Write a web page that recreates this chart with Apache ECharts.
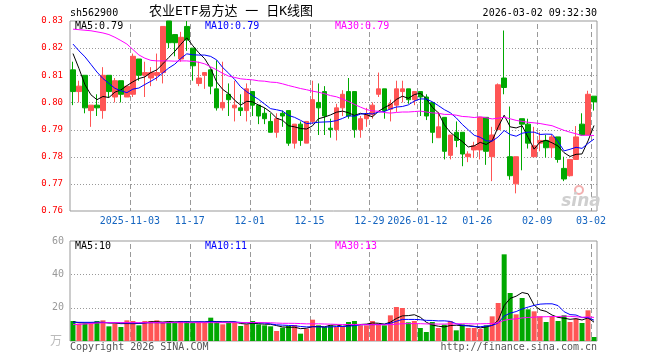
<!DOCTYPE html>
<html><head><meta charset="utf-8">
<script src="https://cdn.jsdelivr.net/npm/echarts@6/dist/echarts.min.js"></script>
<style>html,body{margin:0;padding:0;background:#fff}#c{width:660px;height:360px}</style>
</head><body><div id="c"></div>
<script>
const dates = [
'2025-10-20','2025-10-21','2025-10-22','2025-10-23','2025-10-24','2025-10-27','2025-10-28','2025-10-29','2025-10-30','2025-10-31',
'2025-11-03','2025-11-04','2025-11-05','2025-11-06','2025-11-07','2025-11-10','2025-11-11','2025-11-12','2025-11-13','2025-11-14',
'2025-11-17','2025-11-18','2025-11-19','2025-11-20','2025-11-21','2025-11-24','2025-11-25','2025-11-26','2025-11-27','2025-11-28',
'2025-12-01','2025-12-02','2025-12-03','2025-12-04','2025-12-05','2025-12-08','2025-12-09','2025-12-10','2025-12-11','2025-12-12',
'2025-12-15','2025-12-16','2025-12-17','2025-12-18','2025-12-19','2025-12-22','2025-12-23','2025-12-24','2025-12-25','2025-12-26',
'2025-12-29','2025-12-30','2025-12-31','2026-01-05','2026-01-06','2026-01-07','2026-01-08','2026-01-09','2026-01-12','2026-01-13',
'2026-01-14','2026-01-15','2026-01-16','2026-01-19','2026-01-20','2026-01-21','2026-01-22','2026-01-23','2026-01-26','2026-01-27',
'2026-01-28','2026-01-29','2026-01-30','2026-02-02','2026-02-03','2026-02-04','2026-02-05','2026-02-06','2026-02-09','2026-02-10',
'2026-02-11','2026-02-12','2026-02-13','2026-02-24','2026-02-25','2026-02-26','2026-02-27','2026-03-02'];

const opens = [0.812,0.804,0.810,0.797,0.799,0.797,0.810,0.802,0.808,0.802,
0.803,0.816,0.810,0.809,0.810,0.811,0.830,0.825,0.816,0.828,
0.820,0.807,0.810,0.812,0.805,0.798,0.803,0.798,0.798,0.797,
0.804,0.799,0.796,0.793,0.789,0.796,0.797,0.785,0.792,0.785,
0.793,0.800,0.804,0.7905,0.790,0.798,0.804,0.804,0.790,0.794,
0.7955,0.803,0.805,0.7975,0.799,0.804,0.805,0.801,0.804,0.802,
0.800,0.787,0.7945,0.7805,0.789,0.789,0.780,0.7825,0.7825,0.7945,
0.780,0.790,0.809,0.780,0.770,0.794,0.792,0.780,0.785,0.786,
0.7833,0.7873,0.7757,0.773,0.779,0.792,0.788,0.8023];
const closes = [0.804,0.806,0.798,0.799,0.798,0.810,0.804,0.808,0.803,0.806,
0.817,0.810,0.811,0.811,0.811,0.828,0.822,0.822,0.824,0.823,
0.8135,0.809,0.811,0.806,0.798,0.800,0.801,0.799,0.797,0.805,
0.799,0.795,0.794,0.789,0.794,0.795,0.785,0.792,0.786,0.793,
0.801,0.798,0.795,0.790,0.798,0.803,0.795,0.790,0.794,0.7955,
0.799,0.805,0.797,0.7995,0.805,0.805,0.801,0.804,0.802,0.795,
0.789,0.791,0.782,0.788,0.786,0.781,0.781,0.784,0.7945,0.782,
0.788,0.8065,0.8055,0.773,0.780,0.792,0.785,0.784,0.786,0.7833,
0.7873,0.779,0.7718,0.779,0.7873,0.788,0.803,0.8002];
const lows = [0.799,0.800,0.796,0.791,0.795,0.794,0.802,0.800,0.800,0.802,
0.802,0.808,0.802,0.806,0.808,0.807,0.820,0.817,0.815,0.819,
0.808,0.806,0.805,0.803,0.797,0.797,0.795,0.793,0.795,0.793,
0.795,0.792,0.792,0.789,0.787,0.791,0.784,0.783,0.784,0.785,
0.792,0.788,0.788,0.787,0.786,0.795,0.794,0.787,0.787,0.791,
0.794,0.802,0.794,0.793,0.7965,0.800,0.7995,0.799,0.795,0.7935,
0.785,0.787,0.779,0.779,0.7835,0.7765,0.778,0.7795,0.779,0.777,
0.771,0.790,0.803,0.7715,0.7665,0.775,0.783,0.780,0.782,0.7797,
0.7797,0.7778,0.771,0.7727,0.7788,0.7878,0.788,0.797];
const highs = [0.815,0.808,0.810,0.799,0.803,0.813,0.810,0.809,0.808,0.806,
0.818,0.816,0.815,0.813,0.818,0.828,0.830,0.825,0.826,0.830,
0.820,0.815,0.811,0.812,0.8155,0.815,0.807,0.808,0.803,0.807,
0.804,0.799,0.798,0.796,0.796,0.797,0.797,0.792,0.793,0.793,
0.808,0.807,0.806,0.794,0.7995,0.8045,0.809,0.804,0.795,0.798,
0.800,0.811,0.805,0.801,0.808,0.808,0.805,0.804,0.804,0.803,
0.800,0.7965,0.7945,0.788,0.793,0.789,0.782,0.7855,0.7945,0.7945,
0.791,0.807,0.8265,0.7985,0.780,0.794,0.794,0.791,0.789,0.788,
0.788,0.7873,0.780,0.779,0.7913,0.796,0.8043,0.8023];
const volumes = [12,10.4,10.4,10.4,12,12.4,8.8,10.4,8.4,12.4,
12,9.4,12,12,12.4,11,11,11,12,12,
11,11,11,14,11.4,10,11,11,9,10,
12,10,9.4,8.8,6,8,9,9.6,4.4,7.4,
12.8,9.4,8.4,9.4,8.4,8.4,11.4,12,9.4,9.4,
12,10.4,9.4,15.4,20.4,19.8,11.2,12,7.8,5.4,
11.4,7.8,9.8,12,6.4,10,7.8,7.8,7.2,9.4,
14.8,22.8,52,28.8,16,25.8,19,17.8,14.8,11.4,
14.8,12,15.4,11.4,13.4,10.8,18.4,2.4];

// moving-average values at the left edge (their windows start before the first day shown)
const ma5Lead = [0.818,0.8125,0.8065,0.8028];
const ma10Lead = [0.8215,0.8190,0.8168,0.8140,0.8112,0.8088,0.8070,0.8052,0.8043];
const ma30Lead = [0.8270,0.8268,0.8266,0.8264,0.8260,0.8256,0.8250,0.8240,0.8228,0.8215,0.8195,0.8175,0.8163,0.8155,0.8153,0.8153,0.8153,0.8152,0.8153,0.8153,0.8151,0.8148,0.8142,0.8131,0.8120,0.8107,0.8097,0.8092,0.8087];
const vma5Lead = [11.5,11.0,10.8,10.8];
const vma10Lead = [11.2,11.2,11.2,11.2,11.3,11.2,11.0,11.0,10.8];
const vma30Lead = [9.8,10.0,10.2,10.5,10.8,10.9,11,11,11,11,11,11,11,11,11,11,11,11,11,11,11,11,11,11,11,11,11,11,11];

const tickDates = ['2025-11-03','2025-11-17','2025-12-01','2025-12-15','2025-12-29','2026-01-12','2026-01-26','2026-02-09','2026-03-02'];
const tickLabels = ['2025-11-03','11-17','12-01','12-15','12-29','2026-01-12','01-26','02-09','03-02'];
const priceTicks = [0.76,0.77,0.78,0.79,0.80,0.81,0.82,0.83];
const volTicks = [0,20,40,60];
const priceMaLabels = ['MA5:0.79','MA10:0.79','MA30:0.79'];
const volMaLabels = ['MA5:10','MA10:11','MA30:13'];

const UP = '#ff5555', DOWN = '#00a800';
const MONO = '"DejaVu Sans Mono", monospace';

function movingAvg(vals, n, lead) {
  return vals.map((v, i) => {
    if (i < lead.length) return lead[i];
    let s = 0; for (let k = i - n + 1; k <= i; k++) s += vals[k];
    return +(s / n).toFixed(5);
  });
}

const candleData = dates.map((d, i) => [opens[i], closes[i], lows[i], highs[i]]);
const volData = volumes.map((v, i) => ({value: v, itemStyle: {color: closes[i] >= opens[i] ? UP : DOWN}}));
const isTick = (i, v) => tickDates.indexOf(v) >= 0;
const tickIdx = tickDates.map(d => dates.indexOf(d));

const chart = echarts.init(document.getElementById('c'), null, {renderer: 'canvas'});
const xCommon = {
  type: 'category', data: dates, boundaryGap: true,
  axisLine: {show: false}, axisTick: {show: false}, splitLine: {show: false}
};
const lineS = (name, data, color, xi, yi) => ({
  name, type: 'line', data, xAxisIndex: xi, yAxisIndex: yi, symbol: 'none',
  lineStyle: {color, width: 1}, itemStyle: {color}, z: 5, silent: true
});
// dashed date lines and dotted value lines, drawn as a custom series through the pane's axes
const guides = (xi, yi, ticks) => ({
  type: 'custom', xAxisIndex: xi, yAxisIndex: yi, silent: true, z: 1, clip: false,
  data: [[0, ticks[0]]],
  renderItem: (params, api) => {
    const cs = params.coordSys;
    const band = api.size([1, 0])[0];
    const top = Math.round(cs.y) + 1, bot = Math.round(cs.y + cs.height);
    const left = Math.round(cs.x) + 1, right = Math.round(cs.x + cs.width);
    const children = [];
    tickIdx.forEach(i => {
      const x = Math.round(api.coord([i, ticks[0]])[0] - band / 2);
      for (let y = top + 2; y < bot; y += 8) {
        children.push({type: 'rect', shape: {x: x, y: y, width: 1, height: Math.min(5, bot - y)}, style: {fill: '#999'}});
      }
    });
    ticks.slice(1, -1).forEach(v => {
      const y = Math.round(api.coord([0, v])[1]);
      for (let x = left; x < right; x += 3) {
        children.push({type: 'rect', shape: {x: x, y: y, width: 1, height: 1}, style: {fill: '#999'}});
      }
    });
    return {type: 'group', children};
  }
});
const txt = (text, x, y, fill, opts) => ({
  type: 'text', x, y, z: 100,
  style: Object.assign({text, fill, font: '10px ' + MONO, align: 'left', verticalAlign: 'middle'}, opts || {})
});

chart.setOption({
  animation: false,
  backgroundColor: '#fff',
  grid: [
    {left: 70, top: 21, width: 527, height: 190, show: true, backgroundColor: 'transparent', borderColor: '#999', borderWidth: 1},
    {left: 70, top: 241, width: 527, height: 100, show: true, backgroundColor: 'transparent', borderColor: '#999', borderWidth: 1}
  ],
  xAxis: [
    Object.assign({}, xCommon, {gridIndex: 0, axisLabel: {
      interval: isTick, formatter: v => tickLabels[tickDates.indexOf(v)],
      color: '#1565c0', fontFamily: MONO, fontSize: 10, margin: 5, padding: [0, 6, 0, 0]}}),
    Object.assign({}, xCommon, {gridIndex: 1, axisLabel: {show: false}})
  ],
  yAxis: [
    {type: 'value', gridIndex: 0, min: 0.76, max: 0.83, interval: 0.01,
     axisLine: {show: false}, axisTick: {show: false},
     axisLabel: {color: '#ff0000', fontFamily: MONO, fontSize: 9, margin: 7, formatter: v => v.toFixed(2)},
     splitLine: {show: false}},
    {type: 'value', gridIndex: 1, min: 0, max: 60, interval: 20,
     axisLine: {show: false}, axisTick: {show: false},
     axisLabel: {color: '#999', fontFamily: MONO, fontSize: 10, margin: 6, formatter: v => v === 0 ? '' : String(v)},
     splitLine: {show: false}}
  ],
  series: [
    guides(0, 0, priceTicks),
    guides(1, 1, volTicks),
    {type: 'candlestick', data: candleData, xAxisIndex: 0, yAxisIndex: 0, barWidth: 5, z: 3,
     itemStyle: {color: UP, color0: DOWN, borderColor: UP, borderColor0: DOWN, borderWidth: 1}},
    lineS('MA5', movingAvg(closes, 5, ma5Lead), '#000000', 0, 0),
    lineS('MA10', movingAvg(closes, 10, ma10Lead), '#0000ff', 0, 0),
    lineS('MA30', movingAvg(closes, 30, ma30Lead), '#ff00ff', 0, 0),
    {type: 'bar', data: volData, xAxisIndex: 1, yAxisIndex: 1, barWidth: 5, z: 3},
    lineS('VMA5', movingAvg(volumes, 5, vma5Lead), '#000000', 1, 1),
    lineS('VMA10', movingAvg(volumes, 10, vma10Lead), '#0000ff', 1, 1),
    lineS('VMA30', movingAvg(volumes, 30, vma30Lead), '#ff00ff', 1, 1)
  ],
  graphic: [
    txt('sh562900', 70, 13, '#000'),
    txt('农业ETF易方达 一 日K线图', 231, 12, '#000', {align: 'center', font: '13px "DejaVu Sans Mono", "Noto Sans CJK SC"'}),
    txt('2026-03-02 09:32:30', 597, 13, '#000', {align: 'right'}),
    txt(priceMaLabels[0], 75, 26, '#000'),
    txt(priceMaLabels[1], 205, 26, '#0000ff'),
    txt(priceMaLabels[2], 335, 26, '#ff00ff'),
    txt(volMaLabels[0], 75, 246, '#000'),
    txt(volMaLabels[1], 205, 246, '#0000ff'),
    txt(volMaLabels[2], 335, 246, '#ff00ff'),
    txt('Copyright 2026 SINA.COM', 70, 347, '#555'),
    txt('http://finance.sina.com.cn', 597, 347, '#555', {align: 'right'}),
    txt('万', 50, 340, '#bbb', {font: '12px "Noto Sans CJK SC"'}),
    {type: 'circle', shape: {cx: 579, cy: 190, r: 4}, z: 1, style: {fill: 'none', stroke: '#f2b0b0', lineWidth: 2}},
    txt('sina', 581, 202, '#cfcfcf', {align: 'center', font: 'italic bold 17px "DejaVu Sans"'})
  ]
});
</script></body></html>
